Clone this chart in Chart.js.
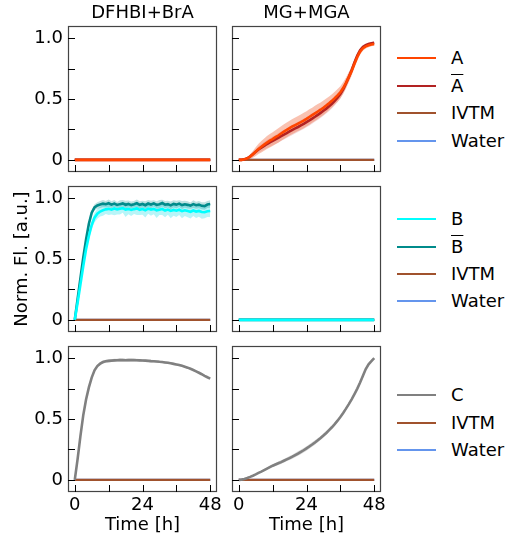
<!DOCTYPE html>
<html>
<head>
<meta charset="utf-8">
<script src="https://cdn.jsdelivr.net/npm/chart.js@4.4.1/dist/chart.umd.min.js"></script>
<style>
body { margin: 0; background: #fff; width: 506px; height: 539px; position: relative; overflow: hidden; font-family: "DejaVu Sans", sans-serif; }
canvas { position: absolute; }
.leg { position: absolute; left: 397px; height: 22px; width: 110px; font-size: 18px; color: #000; }
.leg .ln { position: absolute; left: 0; top: 10px; width: 39px; height: 2px; }
.leg .tx { position: absolute; left: 54px; top: 0; line-height: 22px; white-space: nowrap; }
.ov { text-decoration: overline; }
</style>
</head>
<body>
<canvas id="p11" width="222" height="176" style="left:0;top:0"></canvas>
<canvas id="p12" width="162" height="176" style="left:224px;top:0"></canvas>
<canvas id="p21" width="222" height="156" style="left:0;top:180px"></canvas>
<canvas id="p22" width="162" height="156" style="left:224px;top:180px"></canvas>
<canvas id="p31" width="222" height="199" style="left:0;top:340px"></canvas>
<canvas id="p32" width="162" height="199" style="left:224px;top:340px"></canvas>
<div id="legends"></div>
<script>
// time axis (hours)
const time = [0,1,2,3,4,5,6,7,8,9,10,11,12,13,14,15,16,17,18,19,20,21,22,23,24,25,26,27,28,29,30,31,32,33,34,35,36,37,38,39,40,41,42,43,44,45,46,47,48];

const xTickValues = [0, 12, 24, 36, 48];
const xTickLabels = ["0", "", "24", "", "48"];
const yTickValues = [0, 0.25, 0.5, 0.75, 1];
const yTickLabels = ["0", "", "0.5", "", "1.0"];

// controls (IVTM, water) stay flat at zero
const controlZero = [0,0,0,0,0,0,0,0,0,0,0,0,0,0,0,0,0,0,0,0,0,0,0,0,0,0,0,0,0,0,0,0,0,0,0,0,0,0,0,0,0,0,0,0,0,0,0,0,0];

// MG+MGA, A and A-bar
const aMean = [0,0,0.004,0.012,0.025,0.045,0.068,0.09,0.108,0.125,0.142,0.157,0.17,0.186,0.2,0.216,0.232,0.246,0.26,0.274,0.286,0.298,0.31,0.323,0.337,0.352,0.367,0.382,0.397,0.412,0.428,0.446,0.465,0.485,0.507,0.53,0.555,0.59,0.632,0.68,0.73,0.79,0.845,0.89,0.918,0.933,0.942,0.948,0.952];
const aSd = [0,0.002,0.006,0.012,0.02,0.028,0.036,0.042,0.047,0.05,0.053,0.055,0.057,0.058,0.059,0.06,0.06,0.061,0.061,0.062,0.062,0.062,0.063,0.063,0.063,0.063,0.062,0.062,0.061,0.06,0.059,0.058,0.056,0.055,0.053,0.052,0.05,0.048,0.045,0.042,0.038,0.034,0.03,0.025,0.021,0.018,0.016,0.015,0.014];
const aBarMean = [0,0,0.004,0.013,0.027,0.046,0.066,0.085,0.1,0.115,0.13,0.143,0.155,0.168,0.18,0.194,0.207,0.22,0.233,0.246,0.258,0.27,0.283,0.296,0.31,0.324,0.339,0.354,0.37,0.386,0.403,0.421,0.44,0.461,0.484,0.51,0.54,0.58,0.627,0.68,0.737,0.8,0.857,0.9,0.928,0.943,0.952,0.958,0.962];
const aBarSd = [0,0.001,0.004,0.008,0.013,0.018,0.022,0.026,0.029,0.031,0.033,0.035,0.036,0.037,0.038,0.039,0.04,0.04,0.041,0.041,0.042,0.042,0.042,0.043,0.043,0.043,0.043,0.042,0.042,0.042,0.041,0.04,0.04,0.039,0.038,0.037,0.036,0.034,0.032,0.03,0.028,0.025,0.022,0.019,0.016,0.014,0.012,0.011,0.01];

// DFHBI+BrA, B and B-bar
const bMean = [0,0.14,0.29,0.44,0.58,0.69,0.78,0.84,0.872,0.89,0.9,0.908,0.912,0.905,0.915,0.907,0.913,0.918,0.906,0.912,0.903,0.91,0.916,0.904,0.911,0.9,0.914,0.906,0.912,0.899,0.905,0.911,0.898,0.906,0.895,0.903,0.897,0.905,0.893,0.9,0.894,0.888,0.899,0.89,0.895,0.886,0.884,0.892,0.895];
const bSd = [0,0.01,0.015,0.02,0.025,0.03,0.035,0.04,0.042,0.04,0.045,0.038,0.05,0.04,0.055,0.042,0.048,0.038,0.06,0.045,0.05,0.04,0.055,0.043,0.048,0.058,0.042,0.05,0.045,0.062,0.044,0.05,0.055,0.043,0.06,0.047,0.052,0.044,0.058,0.046,0.05,0.055,0.045,0.052,0.048,0.056,0.05,0.046,0.05];
const bBarMean = [0,0.17,0.34,0.51,0.66,0.79,0.88,0.925,0.94,0.948,0.955,0.95,0.958,0.947,0.955,0.944,0.951,0.957,0.946,0.953,0.943,0.95,0.958,0.945,0.952,0.942,0.956,0.948,0.957,0.944,0.95,0.96,0.946,0.951,0.941,0.953,0.947,0.955,0.943,0.95,0.945,0.939,0.951,0.942,0.947,0.937,0.935,0.948,0.952];
const bBarSd = [0,0.01,0.012,0.015,0.018,0.02,0.022,0.025,0.026,0.028,0.03,0.026,0.032,0.028,0.03,0.025,0.031,0.027,0.033,0.028,0.03,0.026,0.032,0.029,0.027,0.033,0.028,0.031,0.026,0.03,0.034,0.028,0.03,0.027,0.032,0.029,0.031,0.027,0.033,0.028,0.03,0.026,0.032,0.028,0.03,0.029,0.031,0.028,0.03];

// C in DFHBI+BrA and in MG+MGA
const cDfhbiMean = [0,0.17,0.36,0.53,0.66,0.76,0.84,0.9,0.935,0.955,0.968,0.975,0.978,0.98,0.982,0.983,0.985,0.984,0.983,0.984,0.985,0.984,0.983,0.982,0.981,0.98,0.978,0.976,0.975,0.973,0.97,0.968,0.965,0.962,0.958,0.953,0.948,0.943,0.937,0.93,0.922,0.913,0.903,0.892,0.88,0.868,0.855,0.843,0.832];
const cDfhbiSd = [0,0.005,0.008,0.01,0.01,0.01,0.01,0.01,0.01,0.012,0.013,0.012,0.014,0.012,0.013,0.012,0.014,0.013,0.012,0.014,0.013,0.012,0.012,0.011,0.012,0.011,0.01,0.011,0.01,0.01,0.01,0.009,0.01,0.009,0.009,0.009,0.008,0.009,0.008,0.008,0.008,0.008,0.008,0.007,0.007,0.007,0.007,0.007,0.007];
const cMgMean = [0,0.002,0.007,0.015,0.024,0.034,0.045,0.057,0.068,0.08,0.092,0.104,0.116,0.126,0.136,0.146,0.157,0.168,0.179,0.19,0.203,0.216,0.229,0.243,0.258,0.274,0.29,0.307,0.325,0.344,0.364,0.385,0.408,0.432,0.458,0.486,0.517,0.55,0.585,0.622,0.662,0.705,0.75,0.8,0.855,0.91,0.95,0.975,1.0];
const cMgSd = [0,0.001,0.002,0.003,0.004,0.005,0.006,0.007,0.008,0.009,0.01,0.011,0.012,0.013,0.014,0.015,0.015,0.016,0.016,0.017,0.017,0.018,0.018,0.018,0.018,0.018,0.018,0.018,0.017,0.017,0.016,0.016,0.015,0.014,0.013,0.012,0.011,0.01,0.009,0.008,0.008,0.007,0.007,0.006,0.006,0.005,0.005,0.004,0.004];

const COL = {
    a: "#ff4500", aBar: "#b22222", b: "#00ffff", bBar: "#008b8b",
    c: "#808080", ivtm: "#a0522d", water: "#6495ed"
};

Chart.defaults.font.family = "'DejaVu Sans', sans-serif";
Chart.defaults.font.size = 18;
Chart.defaults.font.weight = "normal";
Chart.defaults.color = "#000";

function pts(vals) {
    return time.map((t, i) => ({ x: t, y: vals[i] }));
}

function line(vals, color, width) {
    return { data: pts(vals), borderColor: color, borderWidth: width, pointRadius: 0, fill: false, tension: 0 };
}

// upper edge fills down to the lower edge that follows it
function band(mean, sd, fillColor) {
    const up = mean.map((m, i) => m + sd[i]);
    const lo = mean.map((m, i) => m - sd[i]);
    return [
        { data: pts(up), borderWidth: 0, pointRadius: 0, fill: "+1", backgroundColor: fillColor, tension: 0 },
        { data: pts(lo), borderWidth: 0, pointRadius: 0, fill: false, tension: 0 }
    ];
}

// box around the plot and inward ticks on bottom and left
const frame = {
    id: "frame",
    afterDatasetsDraw(chart) {
        const { ctx, chartArea: a, scales: { x, y } } = chart;
        ctx.save();
        ctx.strokeStyle = "#444";
        ctx.lineWidth = 1.2;
        ctx.strokeRect(a.left + 0.5, a.top + 0.5, a.right - a.left - 1, a.bottom - a.top - 1);
        ctx.strokeStyle = "#000";
        ctx.lineWidth = 1;
        ctx.beginPath();
        x.ticks.forEach(t => {
            const px = Math.round(x.getPixelForValue(t.value)) + 0.5;
            ctx.moveTo(px, a.bottom);
            ctx.lineTo(px, a.bottom - 7);
        });
        y.ticks.forEach(t => {
            const py = Math.round(y.getPixelForValue(t.value)) + 0.5;
            ctx.moveTo(a.left, py);
            ctx.lineTo(a.left + 7, py);
        });
        ctx.stroke();
        ctx.restore();
    }
};

function panel(id, o) {
    return new Chart(document.getElementById(id), {
        type: "line",
        data: { datasets: o.datasets },
        options: {
            responsive: false,
            animation: false,
            layout: { autoPadding: false, padding: { top: o.padTop, right: 5, left: 0, bottom: 0 } },
            plugins: {
                legend: { display: false },
                tooltip: { enabled: false },
                title: {
                    display: !!o.title, text: o.title, color: "#000", fullSize: false,
                    font: { size: 18, weight: "normal" }, padding: { top: 3, bottom: 1.4 }
                }
            },
            scales: {
                x: {
                    type: "linear", min: -2.4, max: 50.4,
                    grid: { display: false, drawTicks: false },
                    border: { display: false },
                    afterBuildTicks: s => { s.ticks = xTickValues.map(v => ({ value: v })); },
                    afterFit: s => {
                        s.height = o.xAxisH;
                        s.paddingLeft = 0; s.paddingRight = 0;
                    },
                    ticks: {
                        display: o.showX, autoSkip: false, maxRotation: 0, padding: 3,
                        callback: (v, i) => xTickLabels[i]
                    },
                    title: {
                        display: !!o.xTitle, text: o.xTitle, color: "#000",
                        font: { size: 18, weight: "normal" }, padding: { top: 0, bottom: 3 }
                    }
                },
                y: {
                    min: -0.1, max: 1.1,
                    grid: { display: false, drawTicks: false },
                    border: { display: false },
                    afterBuildTicks: s => { s.ticks = yTickValues.map(v => ({ value: v })); },
                    afterFit: s => {
                        s.width = o.yAxisW;
                        s.paddingTop = 0; s.paddingBottom = 0;
                    },
                    ticks: {
                        display: o.showY, autoSkip: false, padding: 5,
                        callback: (v, i) => yTickLabels[i]
                    },
                    title: {
                        display: !!o.yTitle, text: o.yTitle, color: "#000",
                        font: { size: 18, weight: "normal" }, padding: { top: 12, bottom: 0 }
                    }
                }
            }
        },
        plugins: [frame]
    });
}

const LW = 2.6;

panel("p11", {
    title: "DFHBI+BrA", padTop: 0, xAxisH: 4, yAxisW: 68, showX: false, showY: true,
    datasets: [line(controlZero, COL.a, LW), line(controlZero, COL.aBar, LW),
               line(controlZero, COL.ivtm, 2.2), line(controlZero, COL.water, 2.2)]
});

panel("p12", {
    title: "MG+MGA", padTop: 0, xAxisH: 4, yAxisW: 8, showX: false, showY: false,
    datasets: [line(aMean, COL.a, LW), line(aBarMean, COL.aBar, LW),
               line(controlZero, COL.ivtm, 2.2), line(controlZero, COL.water, 2.2),
               ...band(aMean, aSd, "rgba(240,110,70,0.42)"),
               ...band(aBarMean, aBarSd, "rgba(200,70,70,0.2)")]
});

panel("p21", {
    yTitle: "Norm. Fl. [a.u.]", padTop: 6, xAxisH: 4, yAxisW: 68, showX: false, showY: true,
    datasets: [line(bMean, COL.b, LW), line(bBarMean, COL.bBar, LW),
               line(controlZero, COL.ivtm, 2.2), line(controlZero, COL.water, 2.2),
               ...band(bBarMean, bBarSd, "rgba(0,139,139,0.25)"),
               ...band(bMean, bSd, "rgba(0,220,230,0.28)")]
});

panel("p22", {
    padTop: 6, xAxisH: 4, yAxisW: 8, showX: false, showY: false,
    datasets: [line(controlZero, COL.b, LW), line(controlZero, COL.bBar, LW),
               line(controlZero, COL.ivtm, 2.2), line(controlZero, COL.water, 2.2)]
});

panel("p31", {
    xTitle: "Time [h]", padTop: 6, xAxisH: 47, yAxisW: 68, showX: true, showY: true,
    datasets: [line(cDfhbiMean, COL.c, LW),
               line(controlZero, COL.ivtm, 2.2), line(controlZero, COL.water, 2.2),
               ...band(cDfhbiMean, cDfhbiSd, "rgba(128,128,128,0.3)")]
});

panel("p32", {
    xTitle: "Time [h]", padTop: 6, xAxisH: 47, yAxisW: 8, showX: true, showY: false,
    datasets: [line(cMgMean, COL.c, LW),
               line(controlZero, COL.ivtm, 2.2), line(controlZero, COL.water, 2.2),
               ...band(cMgMean, cMgSd, "rgba(128,128,128,0.3)")]
});

// legends to the right of each row
const legendRows = [
    { ys: [58, 86, 113, 141], items: [["A", COL.a, false], ["A", COL.aBar, true], ["IVTM", COL.ivtm, false], ["Water", COL.water, false]] },
    { ys: [219, 247, 274, 301], items: [["B", COL.b, false], ["B", COL.bBar, true], ["IVTM", COL.ivtm, false], ["Water", COL.water, false]] },
    { ys: [395, 423, 450], items: [["C", COL.c, false], ["IVTM", COL.ivtm, false], ["Water", COL.water, false]] }
];

const host = document.getElementById("legends");
legendRows.forEach(row => {
    row.items.forEach((it, i) => {
        const d = document.createElement("div");
        d.className = "leg";
        d.style.top = (row.ys[i] - 11) + "px";
        const ln = document.createElement("span");
        ln.className = "ln";
        ln.style.background = it[1];
        const tx = document.createElement("span");
        tx.className = "tx" + (it[2] ? " ov" : "");
        tx.textContent = it[0];
        d.appendChild(ln);
        d.appendChild(tx);
        host.appendChild(d);
    });
});
</script>
</body>
</html>
